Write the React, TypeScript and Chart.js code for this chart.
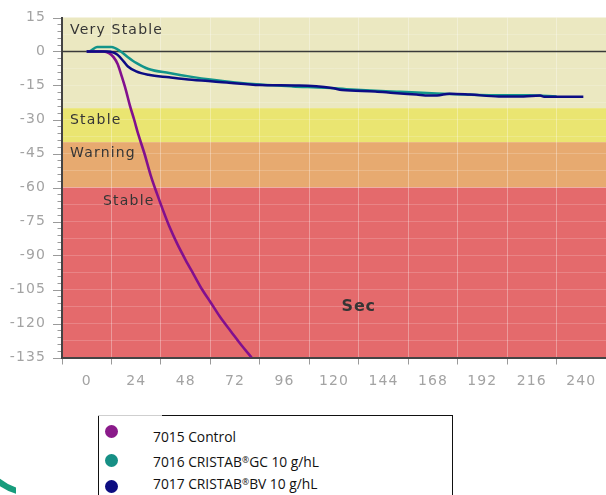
import React, { useEffect, useRef } from "react";
import { Chart, registerables } from "chart.js";
Chart.register(...registerables);

// ---- data ----
const seriesNames = ["7015 Control", "7016 CRISTAB®GC 10 g/hL", "7017 CRISTAB®BV 10 g/hL"];

const controlHours = [0, 8, 11, 13, 15, 17, 19, 21, 23, 25, 28, 31, 34, 37, 40, 44, 48, 52, 56, 60, 65, 70, 75, 80];
const controlValues = [0, 0, -0.8, -2.5, -5.5, -11, -17, -24, -30, -36.5, -45, -54.5, -62.5, -70, -77, -85, -92, -98.5, -105, -110.5, -117.5, -123.5, -129.5, -135];

const gcHours = [0, 1, 5, 12, 16.5, 20, 24, 30, 40, 51, 60, 71, 84, 100, 116, 126, 140, 152, 165, 176, 190, 201, 215, 228];
const gcValues = [0, 0, 2, 2, 0, -2.5, -5, -7.7, -9.5, -11.2, -12.4, -13.6, -14.6, -15.4, -16.0, -16.6, -17.3, -17.8, -18.3, -18.8, -19.2, -19.3, -19.3, -19.8];

const bvHours = [0, 10, 13, 15, 18, 20, 24, 30, 40, 51, 68, 84, 103, 119, 124, 140, 149, 160, 166, 170, 176, 186, 200, 212, 220, 222, 241];
const bvValues = [0, 0, -0.5, -1.5, -4.5, -6.6, -8.8, -10.3, -11.4, -12.5, -13.7, -14.8, -15.0, -16.1, -17.0, -17.6, -18.3, -19.0, -19.4, -19.4, -18.6, -19.0, -19.8, -19.8, -19.4, -20.0, -20.0];

const bandLabels = ["Very Stable", "Stable", "Warning", "Stable", "Sec"];
const bandTops = [15, -25, -40, -60];
const bandBottoms = [-25, -40, -60, -135];
const secLabelAt = { x: 132, y: -112.5 };

const xTickLabels = [0, 24, 48, 72, 96, 120, 144, 168, 192, 216, 240];
const yTickLabels = [15, 0, -15, -30, -45, -60, -75, -90, -105, -120, -135];

// ---- styles ----
const lineColors = ["#82108e", "#12948a", "#0c0c84"];
const legendColors = ["#8a1a8a", "#168f85", "#0c0c80"];
const bandColors = ["#ebe8c1", "#eae571", "#e7aa70", "#e46a6c"];

const toPoints = (xs: number[], ys: number[]) => xs.map((x, i) => ({ x, y: ys[i] }));
const near = (a: number, b: number) => Math.abs(a - b) < 1e-6;
const isMult = (v: number, m: number) => near(v / m, Math.round(v / m));

const bandsPlugin = {
  id: "bands",
  beforeDraw(chart: any) {
    const { ctx, chartArea, scales } = chart;
    const y = scales.y;
    ctx.save();
    bandTops.forEach((t, i) => {
      const y1 = y.getPixelForValue(t);
      const y2 = y.getPixelForValue(bandBottoms[i]);
      ctx.fillStyle = bandColors[i];
      ctx.fillRect(chartArea.left, y1, chartArea.right - chartArea.left, y2 - y1);
    });
    ctx.restore();
    ctx.letterSpacing = "1.1px";
  },
  beforeDatasetsDraw(chart: any) {
    const { ctx, chartArea, scales } = chart;
    const y = scales.y;
    const x = scales.x;
    ctx.save();
    // zero line
    const y0 = y.getPixelForValue(0);
    ctx.strokeStyle = "#3a3a3a";
    ctx.lineWidth = 1.3;
    ctx.beginPath();
    ctx.moveTo(chartArea.left, y0);
    ctx.lineTo(chartArea.right, y0);
    ctx.stroke();
    // band labels
    ctx.fillStyle = "#353535";
    ctx.textBaseline = "middle";
    ctx.textAlign = "left";
    ctx.font = '14px "DejaVu Sans"';
    ctx.letterSpacing = "1.2px";
    const offs = [
      { dx: 8, dy: 12.5 },
      { dx: 8, dy: 12 },
      { dx: 8, dy: 11.5 },
      { dx: 41, dy: 13.5 },
    ];
    for (let i = 0; i < 4; i++) {
      const top = y.getPixelForValue(bandTops[i]);
      ctx.fillText(bandLabels[i], chartArea.left + offs[i].dx, top + offs[i].dy);
    }
    ctx.font = 'bold 16px "DejaVu Sans"';
    ctx.letterSpacing = "0.8px";
    ctx.textAlign = "center";
    ctx.fillText(bandLabels[4], x.getPixelForValue(secLabelAt.x), y.getPixelForValue(secLabelAt.y));
    ctx.restore();
  },
  afterDraw(chart: any) {
    const { ctx, chartArea, scales } = chart;
    const y = scales.y;
    ctx.save();
    ctx.strokeStyle = "#9a9a9a";
    ctx.lineWidth = 1;
    for (let v = -135; v <= 15; v += 3) {
      const py = Math.round(y.getPixelForValue(v)) + 0.5;
      const len = isMult(v, 15) ? 8 : 3.5;
      ctx.beginPath();
      ctx.moveTo(chartArea.left - 1 - len, py);
      ctx.lineTo(chartArea.left - 1, py);
      ctx.stroke();
    }
    ctx.restore();
  },
};

function Name({ text }: { text: string }) {
  const parts = text.split("®");
  return (
    <>
      {parts.map((p, i) => (
        <React.Fragment key={i}>
          {i > 0 && <span style={{ fontSize: "0.62em", verticalAlign: "0.5em" }}>®</span>}
          {p}
        </React.Fragment>
      ))}
    </>
  );
}

export default function App() {
  const ref = useRef<HTMLCanvasElement | null>(null);

  useEffect(() => {
    if (!ref.current) return;
    const chart = new Chart(ref.current, {
      type: "line",
      data: {
        datasets: [
          {
            label: seriesNames[0],
            data: toPoints(controlHours, controlValues),
            borderColor: lineColors[0],
            borderWidth: 2.6,
            pointRadius: 0,
            cubicInterpolationMode: "monotone",
            order: 1,
          },
          {
            label: seriesNames[1],
            data: toPoints(gcHours, gcValues),
            borderColor: lineColors[1],
            borderWidth: 2.5,
            pointRadius: 0,
            cubicInterpolationMode: "monotone",
            order: 2,
          },
          {
            label: seriesNames[2],
            data: toPoints(bvHours, bvValues),
            borderColor: lineColors[2],
            borderWidth: 2.5,
            pointRadius: 0,
            cubicInterpolationMode: "monotone",
            order: 0,
          },
        ],
      },
      options: {
        responsive: false,
        animation: false,
        layout: { autoPadding: false, padding: { top: 17.5, left: 0, right: 0, bottom: 0 } },
        plugins: { legend: { display: false }, tooltip: { enabled: false } },
        scales: {
          x: {
            type: "linear",
            min: -12,
            max: 252,
            afterBuildTicks: (scale: any) => {
              const t = [];
              for (let v = -12; v <= 252; v += 12) t.push({ value: v });
              scale.ticks = t;
            },
            afterFit: (scale: any) => {
              scale.height = 400 - 357.5;
              scale.paddingLeft = 0;
              scale.paddingRight = 0;
              scale.paddingTop = 0;
              scale.paddingBottom = 0;
            },
            border: { color: "#444", width: 2 },
            grid: {
              color: (c: any) => {
                const v = c.tick ? c.tick.value : 0;
                return v > -12 && isMult(v - 12, 24) ? "rgba(255,255,255,0.32)" : "rgba(0,0,0,0)";
              },
              tickColor: (c: any) => {
                const v = c.tick ? c.tick.value : 0;
                return isMult(v - 12, 24) ? "#9a9a9a" : "rgba(0,0,0,0)";
              },
              tickLength: 7,
              lineWidth: 1,
              drawOnChartArea: true,
            },
            ticks: {
              autoSkip: false,
              maxRotation: 0,
              padding: 8,
              color: "#a3a3a3",
              font: { family: "DejaVu Sans", size: 14 },
              callback: (v: any) => (xTickLabels.includes(Number(v)) ? String(v) : ""),
            },
          },
          y: {
            type: "linear",
            min: -135,
            max: 15,
            afterBuildTicks: (scale: any) => {
              const t = [];
              for (let v = -135; v <= 15; v += 7.5) t.push({ value: v });
              scale.ticks = t;
            },
            afterFit: (scale: any) => {
              scale.width = 62;
              scale.paddingLeft = 0;
              scale.paddingRight = 0;
              scale.paddingTop = 0;
              scale.paddingBottom = 0;
            },
            border: { color: "#444", width: 2 },
            grid: {
              drawTicks: false,
              color: (c: any) => {
                const v = c.tick ? c.tick.value : 0;
                return v > -135 && v < 15 ? "rgba(255,255,255,0.18)" : "rgba(0,0,0,0)";
              },
              lineWidth: 1,
            },
            ticks: {
              autoSkip: false,
              padding: 16,
              color: "#a3a3a3",
              font: { family: "DejaVu Sans", size: 14 },
              callback: (v: any) => (yTickLabels.includes(Number(v)) ? String(v) : ""),
            },
          },
        },
      },
      plugins: [bandsPlugin],
    } as any);
    return () => chart.destroy();
  }, []);

  const circleTops = [431.7, 460, 486];
  const textTops = [428.5, 451.5, 473.5];

  return (
    <div
      style={{
        position: "absolute",
        left: 0,
        top: 0,
        width: 606,
        height: 495,
        overflow: "hidden",
        background: "#fff",
      }}
    >
      <canvas ref={ref} width={606} height={400} style={{ position: "absolute", left: 0, top: 0 }} />
      <div
        style={{
          position: "absolute",
          left: 98,
          top: 415,
          width: 355,
          height: 100,
          border: "1px solid #111",
          boxSizing: "border-box",
        }}
      />
      <div style={{ position: "absolute", left: 98, top: 414.5, width: 64, height: 1.5, background: "#cfcfcf" }} />
      {seriesNames.map((n, i) => (
        <React.Fragment key={n}>
          <div
            style={{
              position: "absolute",
              left: 111.7 - 6.5,
              top: circleTops[i] - 6.5,
              width: 13,
              height: 13,
              borderRadius: "50%",
              background: legendColors[i],
            }}
          />
          <div
            style={{
              position: "absolute",
              left: 153,
              top: textTops[i],
              fontFamily: '"Open Sans"',
              fontSize: 13.8,
              lineHeight: "16px",
              color: "#111",
              whiteSpace: "nowrap",
            }}
          >
            <Name text={n} />
          </div>
        </React.Fragment>
      ))}
      <div style={{ position: "absolute", left: 0, top: 478, width: 16, height: 17, overflow: "hidden" }}>
        <div
          style={{
            position: "absolute",
            left: 32.8 - 60,
            top: 436.3 - 60 - 478,
            width: 120,
            height: 120,
            borderRadius: "50%",
            border: "6px solid #179c7c",
            boxSizing: "border-box",
          }}
        />
      </div>
    </div>
  );
}
